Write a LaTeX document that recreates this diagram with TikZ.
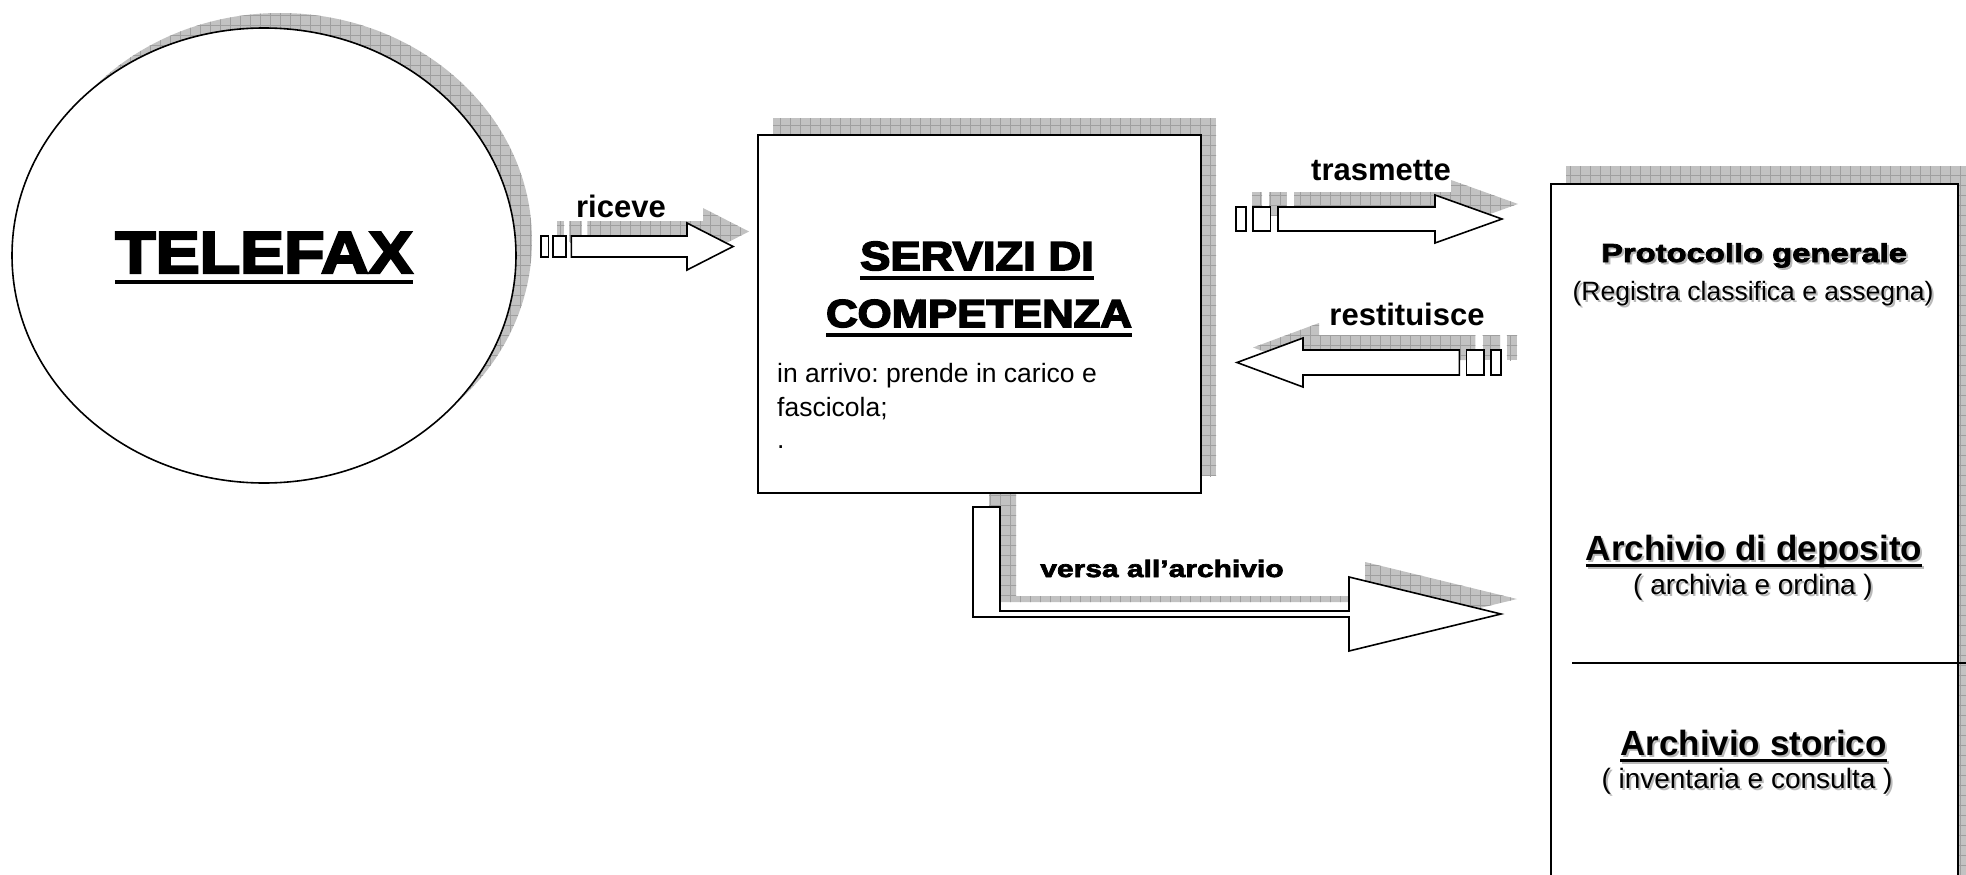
\documentclass[tikz,border=0pt]{standalone}
\usepackage{fontspec}
\setmainfont{Liberation Sans}
\newfontfamily\blackfont[BoldFeatures={FakeBold=4,FakeStretch=1.12}]{Liberation Sans}
\newfontfamily\blackwide[BoldFeatures={FakeBold=3,FakeStretch=1.26}]{Liberation Sans}
\usetikzlibrary{shapes.geometric}
\usetikzlibrary{patterns.meta}
\frenchspacing
\newcommand\blk{\blackfont\bfseries}
\newcommand\blw{\blackwide\bfseries}
\newcommand\fsz[1]{\fontsize{#1}{#1}\selectfont}
\newsavebox\ulbox
\newcommand\ulin[3]{\sbox\ulbox{#3}\rlap{\usebox\ulbox}\raisebox{-#1}{\rule{\wd\ulbox}{#2}}}
\newcommand\shd[1]{\rlap{\kern2pt\raisebox{-2pt}{\color{gray!55}#1}}#1}
\tikzset{outline/.style={draw, line width=1.6pt, fill=white}}
\tikzset{shade box/.style={preaction={fill=gray!48}, pattern={Hatch[angle=0,distance=10pt,line width=.5pt]}, pattern color=gray!75}}
\tikzset{arrowpart/.style={outline}}
\tikzset{txt/.style={inner sep=0pt, anchor=base}}
\tikzset{act/.style={txt, font=\bfseries\fsz{31}}}
\tikzset{pics/stripearrow/.style n args={4}{code={
  \path[arrowpart] (0,-#3) rectangle (0.038*#1,#3);
  \path[arrowpart] (0.064*#1,-#3) rectangle (0.13*#1,#3);
  \path[arrowpart] (0.158*#1,-#3) -- (#1-#2,-#3) -- (#1-#2,-#4) -- (#1,0)
    -- (#1-#2,#4) -- (#1-#2,#3) -- (0.158*#1,#3) -- cycle;
}}}
\tikzset{pics/bentarrow/.style={code={
  \path[arrowpart] (973,507) -- (1000,507) -- (1000,611) -- (1349,611) -- (1349,577)
    -- (1501,614) -- (1349,651) -- (1349,617) -- (973,617) -- cycle;
}}}

\begin{document}
\begin{tikzpicture}[x=1pt, y=-1pt]
        \useasboundingbox (0,0) rectangle (1966,875);
        \clip (0,0) rectangle (1966,875);
        \path[shade box] (280,240.5) ellipse [x radius=252, y radius=227.5];
        \path[shade box] (773,118) rectangle (1216,476);
        \path[shade box] (1566,166) rectangle (1990,900);
        \pic[arrowpart/.style={shade box}] at (557,231.5) {stripearrow={192}{46}{10.5}{23.5}};
        \pic[arrowpart/.style={shade box}] at (1252,204) {stripearrow={266}{67}{12}{24}};
        \pic[xscale=-1, arrowpart/.style={shade box}] at (1517,347.5) {stripearrow={264}{66}{12.5}{24.5}};
        \pic[arrowpart/.style={shade box}] at (16,-15) {bentarrow};
        \node[outline, ellipse, minimum width=504, minimum height=455] (fax) at (264,255.5) {};
        \node[outline, line width=2pt, minimum width=443, minimum height=358, anchor=north west] (serv) at (757,134) {};
        \node[outline, line width=2pt, minimum width=407, minimum height=760, anchor=north west] (reg) at (1550,183) {};
        \pic at (541,246.5) {stripearrow={192}{46}{10.5}{23.5}};
        \pic at (1236,219) {stripearrow={266}{67}{12}{24}};
        \pic[xscale=-1] at (1501,362.5) {stripearrow={264}{66}{12.5}{24.5}};
        \pic at (0,0) {bentarrow};
        \draw[line width=1.6pt] (1572,663) -- (1975,663);
        \node[txt, font=\blk\fsz{59}] (faxlbl) at (264,273) {\ulin{11pt}{4.5pt}{TELEFAX}};
        \node[txt, font=\blk\fsz{40.5}] (serv1) at (977,270) {\ulin{9.5pt}{3.5pt}{SERVIZI DI}};
        \node[txt, font=\blk\fsz{39}] (serv2) at (979,327) {\ulin{9.5pt}{3.5pt}{COMPETENZA}};
        \node[txt, anchor=base west, font=\fsz{26.5}] (note1) at (777,382) {in arrivo: prende in carico e};
        \node[txt, anchor=base west, font=\fsz{26.5}] (note2) at (777,416) {fascicola;};
        \node[txt, anchor=base west, font=\fsz{26.5}] (note3) at (777,448) {.};
        \node[act] (rcv) at (621,217) {riceve};
        \node[act] (trm) at (1381,180) {trasmette};
        \node[act] (rst) at (1407,325) {restituisce};
        \node[txt, font=\blw\fsz{23.8}] (vrs) at (1162,577) {versa all’archivio};
        \node[txt, font=\blw\fsz{26}] (prot) at (1754,262) {\shd{Protocollo generale}};
        \node[txt, font=\fsz{26.5}] (protsub) at (1753,300) {\shd{(Registra classifica e assegna)}};
        \node[txt, font=\bfseries\fsz{35}] (dep) at (1754,560) {\shd{\ulin{6.5pt}{3pt}{Archivio di deposito}}};
        \node[txt, font=\fsz{28}] (depsub) at (1753,594) {\shd{( archivia e ordina )}};
        \node[txt, font=\bfseries\fsz{35}] (sto) at (1753.5,755) {\shd{\ulin{6.5pt}{3pt}{Archivio storico}}};
        \node[txt, font=\fsz{28}] (stosub) at (1747,788) {\shd{( inventaria e consulta )}};
      \end{tikzpicture}
\end{document}
